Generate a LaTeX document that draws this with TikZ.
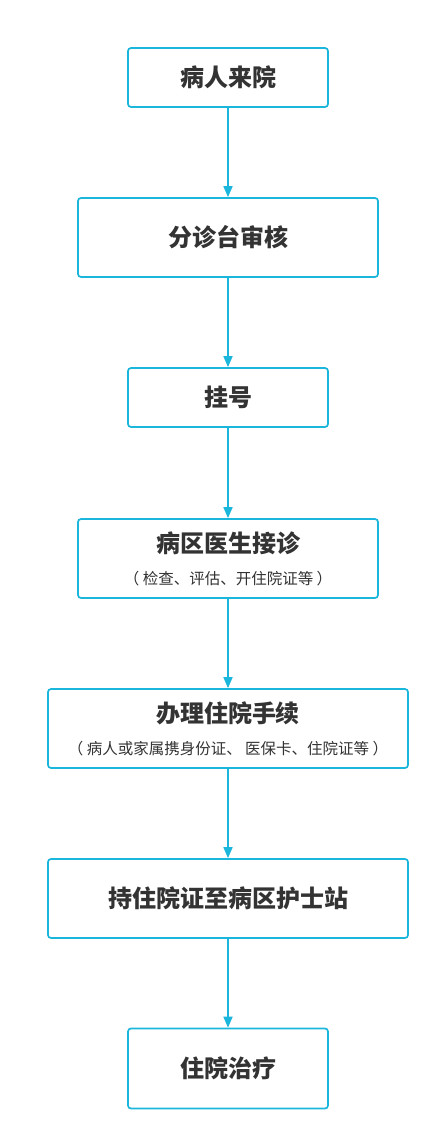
\documentclass[tikz,border=0pt]{standalone}
\usepackage{fontspec}
\setmainfont{Noto Sans CJK SC}
\usepackage{xcolor}
\usetikzlibrary{arrows.meta}
\definecolor{flowCyan}{HTML}{1BB6DB}
\definecolor{flowText}{HTML}{333333}

\begin{document}
\begin{tikzpicture}[x=1pt,y=-1pt,
    stepbox/.style={draw=flowCyan,line width=1.7pt,rounded corners=3pt,fill=white,
        inner sep=0pt,align=center,text=flowText,font=\fontsize{24}{28}\selectfont\bfseries},
    flowarrow/.style={draw=flowCyan,line width=1.7pt,-{Triangle[length=11pt,width=9pt]}}]
    % Canvas
    \useasboundingbox (0,0) rectangle (440,1141);

    % Steps
    \node[stepbox,minimum width=200,minimum height=59] (arrive) at (228,77.5) {病人来院};
    \node[stepbox,minimum width=300,minimum height=79] (triage) at (228,237.5) {分诊台审核};
    \node[stepbox,minimum width=200,minimum height=59] (register) at (228,397.5) {挂号};
    \node[stepbox,minimum width=300,minimum height=79] (doctor) at (228,558.5)
        {病区医生接诊\\[4pt]{\fontsize{15.5}{18}\selectfont\mdseries （ 检查、评估、开住院证等 ）}};
    \node[stepbox,minimum width=360,minimum height=79] (admit) at (228,728.5)
        {办理住院手续\\[4pt]{\fontsize{15.5}{18}\selectfont\mdseries （ 病人或家属携身份证、 医保卡、住院证等 ）}};
    \node[stepbox,minimum width=360,minimum height=79] (nurse) at (228,898.5) {持住院证至病区护士站};
    \node[stepbox,minimum width=200,minimum height=80] (treat) at (228,1068.5) {住院治疗};

    % Connectors
    \foreach \a/\b in {arrive/triage,triage/register,register/doctor,doctor/admit,admit/nurse,nurse/treat}
        \draw[flowarrow] (\a.south) -- (\b.north);
\end{tikzpicture}
\end{document}
